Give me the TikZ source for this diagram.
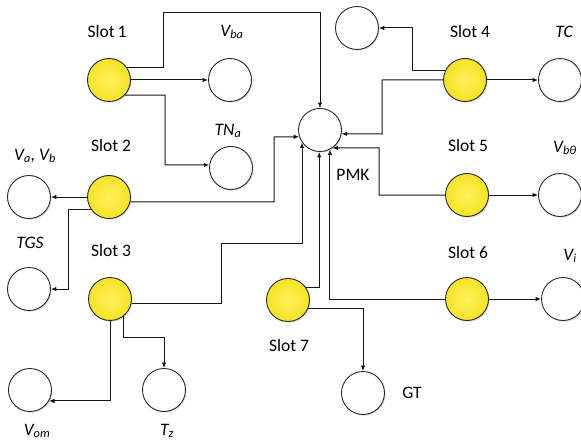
\documentclass[tikz,border=0pt]{standalone}
\usepackage{fontspec}
\setmainfont{Carlito}
\usetikzlibrary{arrows.meta,shadows}
\definecolor{slotyellow}{RGB}{246,226,40}
\definecolor{slotlight}{RGB}{255,242,90}
\definecolor{rimgray}{RGB}{40,40,40}
\definecolor{linegray}{RGB}{20,20,20}
\begin{document}
\begin{tikzpicture}[x=1pt,y=-1pt,
  ball/.style={circle,draw=rimgray,line width=0.9pt,minimum size=43pt,inner sep=0pt,
    drop shadow={shadow xshift=1pt,shadow yshift=-1.2pt,opacity=0.15,fill=black}},
  slotnode/.style={ball,inner color=slotlight,outer color=slotyellow},
  termnode/.style={ball,fill=white},
  lbl/.style={inner sep=0pt,font=\fontsize{17.5}{20}\selectfont},
  ilbl/.style={lbl,font=\fontsize{17.5}{20}\selectfont\itshape},
  conn/.style={line width=1pt,draw=linegray},
  arr/.style={conn,-{Latex[length=5.5pt,width=4.6pt]}}
]
\useasboundingbox (0,0) rectangle (581,441);

% slot nodes
\node[slotnode] (s1) at (109,80) {};
\node[slotnode] (s2) at (109,197) {};
\node[slotnode] (s3) at (110,299) {};
\node[slotnode] (s4) at (465,80) {};
\node[slotnode] (s5) at (467,195) {};
\node[slotnode] (s6) at (467,299) {};
\node[slotnode] (s7) at (288,300) {};

% terminal nodes
\node[termnode] (pmk) at (320,130) {};
\node[termnode] (vba) at (230,80) {};
\node[termnode] (tna) at (231,168) {};
\node[termnode] (vab) at (29,197) {};
\node[termnode] (tgs) at (29,289) {};
\node[termnode] (vom) at (30,390) {};
\node[termnode] (tz) at (164,390) {};
\node[termnode] (gt) at (363,393) {};
\node[termnode] (vi) at (563,299) {};
\node[termnode] (vb0) at (560,195) {};
\node[termnode] (tc) at (560,80) {};
\node[termnode] (top) at (357,28) {};

% labels
\node[lbl] (l1) at (107,31) {Slot\,1};
\node[lbl] (l2) at (111,145) {Slot 2};
\node[lbl] (l3) at (111,250) {Slot 3};
\node[lbl] (l4) at (470,31) {Slot 4};
\node[lbl] (l5) at (468,145) {Slot 5};
\node[lbl] (l6) at (468,252) {Slot 6};
\node[lbl] (l7) at (289,345) {Slot 7};
\node[lbl] (lpmk) at (353,175) {PMK};
\node[lbl] (lgt) at (412,393) {GT};
\node[ilbl] (lvba) at (232,32) {V\textsubscript{ba}};
\node[ilbl] (ltna) at (228,131) {TN\textsubscript{a}};
\node[ilbl] (lvab) at (35,156) {V\textsubscript{a}, V\textsubscript{b}};
\node[ilbl] (ltgs) at (30,243) {TGS};
\node[ilbl] (lvom) at (37,431) {V\textsubscript{om}};
\node[ilbl] (ltz) at (167,431) {T\textsubscript{z}};
\node[ilbl] (lvi) at (570,256) {V\textsubscript{i}};
\node[ilbl] (lvb0) at (565,148) {V\textsubscript{bθ}};
\node[ilbl] (ltc) at (564,32) {TC};

% connectors
\draw[arr] (s1.34) -| (163,13) -| (pmk);
\draw[arr] (s1) -- (vba);
\draw[arr] (s1.-44) -| (165,165) -- (tna.172);
\draw[arr] (s2) -- (vab);
\draw[arr] (s2.214) -| (68,289) -- (tgs);
\draw[arr] (s2.-13) -| (274,137) -- (pmk.198);
\draw[arr] (s3.-11) -| (221,243) -| (pmk.215);
\draw[arr] (s7.34) -| (pmk.268);
\draw[arr] (s6.west) -| (pmk.297);
\draw[arr] (s5.west) -| (379,148) -- (pmk.-55);
\draw[arr] (s5) -- (vb0);
\draw[arr] (s4.155) -| (412,28) -- (top);
\draw[arr] (s4.west) -| (382,134) -- (pmk.-10);
\draw[arr] (s4) -- (tc);
\draw[arr] (s6) -- (vi);
\draw[arr] (s7.-22) -| (gt);
\draw[arr] (s3.-52) |- (164,337) -- (tz);
\draw[arr] (s3.south) |- (vom.-30);
\end{tikzpicture}
\end{document}
